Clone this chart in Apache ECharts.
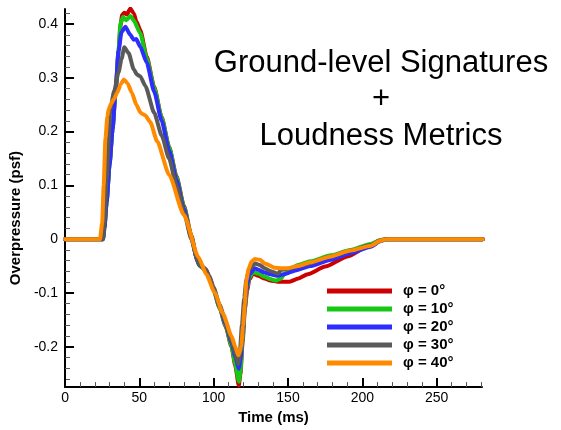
<!DOCTYPE html>
<html>
<head>
<meta charset="utf-8">
<style>
  html, body { margin: 0; padding: 0; background: #fff; }
  #chart { width: 561px; height: 430px; }
</style>
<script src="https://cdn.jsdelivr.net/npm/echarts@6/dist/echarts.min.js"></script>
</head>
<body>
<div id="chart"></div>
<script>
// Ground-level pressure signatures for several azimuth angles phi.
// Time in milliseconds, overpressure in psf.

const seriesNames = ['\u03c6 = 0\u00b0', '\u03c6 = 10\u00b0', '\u03c6 = 20\u00b0', '\u03c6 = 30\u00b0', '\u03c6 = 40\u00b0'];
const seriesColors = ['#cc0000', '#14c814', '#2d2dff', '#5a5a5a', '#ff8a00'];

const time0 = [0, 25.5, 26.5, 28, 30, 32, 34, 36, 37.4, 38.4, 39.9, 41.7, 43.9, 46.2, 48, 50.6, 55, 60, 65, 70, 75, 80, 85, 89, 91, 93, 95, 97, 100, 104, 108, 112, 114.5, 116.9, 118, 119.5, 121, 122.5, 124, 126.5, 130, 134.3, 138, 143.2, 151, 157, 163.3, 175, 190, 205.7, 212, 216, 230, 250, 270, 281];
const press0 = [0, 0, 0.02, 0.07, 0.14, 0.205, 0.275, 0.35, 0.398, 0.417, 0.421, 0.418, 0.429, 0.42, 0.405, 0.389, 0.339, 0.283, 0.227, 0.172, 0.117, 0.062, 0.007, -0.04, -0.05, -0.054, -0.057, -0.07, -0.095, -0.128, -0.162, -0.2, -0.235, -0.272, -0.25, -0.19, -0.13, -0.095, -0.075, -0.064, -0.068, -0.073, -0.077, -0.079, -0.079, -0.073, -0.065, -0.051, -0.032, -0.01, -0.002, 0, 0, 0, 0, 0];

const time10 = [0, 25.5, 26.5, 28, 30, 32, 34, 36, 37.2, 39, 41.2, 43.9, 46.2, 50.6, 55, 60, 65, 70, 75, 80, 85, 88.6, 90, 92, 94, 97, 100, 104, 108, 112, 114.5, 117, 118, 119.5, 121, 122.5, 124, 126.5, 130, 134.3, 138, 142, 145.4, 147.6, 151, 156.6, 165, 178.9, 192, 205.7, 212, 216, 230, 250, 270, 281];
const press10 = [0, 0, 0.02, 0.07, 0.14, 0.205, 0.275, 0.35, 0.4, 0.413, 0.407, 0.415, 0.407, 0.383, 0.336, 0.281, 0.226, 0.171, 0.115, 0.06, 0.005, -0.035, -0.048, -0.052, -0.056, -0.072, -0.095, -0.128, -0.16, -0.198, -0.232, -0.265, -0.245, -0.185, -0.125, -0.09, -0.072, -0.061, -0.064, -0.07, -0.074, -0.077, -0.073, -0.064, -0.057, -0.048, -0.041, -0.03, -0.02, -0.009, -0.002, 0, 0, 0, 0, 0];

const time20 = [0, 25.5, 26.5, 28, 30, 32, 34, 36, 38, 40.6, 43.9, 46.2, 47.9, 50.6, 55, 60, 65, 70, 75, 80, 85, 88.6, 90, 92, 94, 97, 100, 104, 108, 112, 114.5, 116.9, 118, 119.5, 121, 122.5, 124, 127.6, 130, 134.3, 138, 143.2, 147.6, 155, 165, 178.9, 192, 205.7, 212, 216, 230, 250, 270, 281];
const press20 = [0, 0, 0.02, 0.07, 0.14, 0.205, 0.275, 0.35, 0.385, 0.395, 0.38, 0.371, 0.372, 0.358, 0.328, 0.274, 0.22, 0.165, 0.11, 0.056, 0.002, -0.035, -0.047, -0.051, -0.055, -0.07, -0.093, -0.125, -0.157, -0.192, -0.218, -0.241, -0.225, -0.175, -0.12, -0.085, -0.066, -0.054, -0.057, -0.062, -0.065, -0.068, -0.065, -0.058, -0.05, -0.038, -0.026, -0.014, -0.004, 0, 0, 0, 0, 0];

const time30 = [0, 25.5, 26.5, 28, 30.5, 33, 36, 38, 39.9, 42.8, 46.2, 48.4, 50.6, 54, 60, 65, 70, 75, 80, 85, 88.6, 90, 92, 94, 97, 100, 104, 108, 112, 114.5, 116.5, 117.5, 119, 120.5, 122, 124, 128, 131, 134.3, 138, 143.2, 145.5, 150, 160, 178.9, 192, 205.7, 212, 216, 230, 250, 270, 281];
const press30 = [0, 0, 0.03, 0.11, 0.242, 0.275, 0.31, 0.335, 0.357, 0.346, 0.316, 0.306, 0.303, 0.285, 0.235, 0.193, 0.15, 0.1, 0.05, 0.0, -0.034, -0.046, -0.05, -0.054, -0.068, -0.09, -0.122, -0.153, -0.188, -0.212, -0.232, -0.215, -0.16, -0.11, -0.075, -0.055, -0.045, -0.048, -0.054, -0.059, -0.064, -0.057, -0.055, -0.048, -0.032, -0.021, -0.011, -0.003, 0, 0, 0, 0, 0];

const time40 = [0, 23.5, 25, 26, 27.2, 28.5, 29.4, 31, 32.8, 35, 37.5, 39.5, 42, 45, 48, 50.6, 52, 54, 57.3, 62, 70, 80, 89.7, 95, 100.8, 106, 112, 114.5, 116.5, 117.5, 118.5, 119.8, 121, 122, 123.5, 125.4, 127.6, 131, 134.3, 141, 145.5, 150, 156.6, 165, 178.9, 192, 205.7, 212, 216, 230, 250, 270, 281];
const press40 = [0, 0, 0.03, 0.1, 0.187, 0.228, 0.242, 0.252, 0.26, 0.272, 0.288, 0.297, 0.29, 0.272, 0.25, 0.236, 0.233, 0.23, 0.218, 0.182, 0.12, 0.045, -0.033, -0.065, -0.1, -0.137, -0.18, -0.2, -0.216, -0.21, -0.2, -0.161, -0.12, -0.076, -0.055, -0.042, -0.037, -0.038, -0.045, -0.053, -0.054, -0.054, -0.05, -0.043, -0.032, -0.021, -0.012, -0.003, 0, 0, 0, 0, 0];

// Axis ticks
const xMajorTicks = [0, 50, 100, 150, 200, 250];
const xMinorTicks = [10, 20, 30, 40, 60, 70, 80, 90, 110, 120, 130, 140, 160, 170, 180, 190, 210, 220, 230, 240, 260, 270, 280];
const yMajorTicks = [-0.2, -0.1, 0, 0.1, 0.2, 0.3, 0.4];
const yMinorTicks = [-0.26, -0.24, -0.22, -0.18, -0.16, -0.14, -0.12, -0.08, -0.06, -0.04, -0.02,
                     0.02, 0.04, 0.06, 0.08, 0.12, 0.14, 0.16, 0.18, 0.22, 0.24, 0.26, 0.28,
                     0.32, 0.34, 0.36, 0.38, 0.42];

const titleLines = ['Ground-level Signatures', '+', 'Loudness Metrics'];

const X_MIN = 0, X_MAX = 280.5;
const Y_MIN = -0.275, Y_MAX = 0.428;

const FONT = '"Liberation Sans", Arial, Helvetica, sans-serif';

const allTimes = [time0, time10, time20, time30, time40];
const allPress = [press0, press10, press20, press30, press40];

function pairs(t, v) {
  return t.map((x, i) => [x, v[i]]);
}

const chart = echarts.init(document.getElementById('chart'), null, { renderer: 'canvas' });

const axisLineStyle = { color: '#000', width: 2 };

chart.setOption({
  animation: false,
  backgroundColor: '#fff',
  grid: { left: 63, right: 79, top: 9, bottom: 38, containLabel: false },
  legend: {
    orient: 'vertical',
    left: 327,
    top: 282,
    padding: 0,
    itemGap: 0,
    itemWidth: 65,
    itemHeight: 5,
    icon: 'rect',
    data: seriesNames,
    textStyle: {
      fontFamily: FONT,
      fontSize: 15,
      fontWeight: 'bold',
      color: '#000',
      lineHeight: 18,
      padding: [0, 0, 0, 6]
    }
  },
  xAxis: [
    {
      type: 'value',
      min: X_MIN,
      max: X_MAX,
      name: 'Time (ms)',
      nameLocation: 'middle',
      nameGap: 20,
      nameTextStyle: { fontFamily: FONT, fontSize: 15, fontWeight: 'bold', color: '#000' },
      axisLine: { show: true, onZero: false, lineStyle: axisLineStyle },
      axisTick: { show: true, inside: true, length: 9, customValues: xMajorTicks, lineStyle: { color: '#000', width: 2 } },
      axisLabel: { show: true, customValues: xMajorTicks, margin: 4, fontFamily: FONT, fontSize: 14, color: '#000' },
      splitLine: { show: false }
    },
    {
      type: 'value',
      min: X_MIN,
      max: X_MAX,
      position: 'bottom',
      axisLine: { show: false, onZero: false },
      axisTick: { show: true, inside: true, length: 5, customValues: xMinorTicks, lineStyle: { color: '#555', width: 1 } },
      axisLabel: { show: false },
      splitLine: { show: false }
    }
  ],
  yAxis: [
    {
      type: 'value',
      min: Y_MIN,
      max: Y_MAX,
      position: 'left',
      name: 'Overpressure (psf)',
      nameLocation: 'middle',
      nameGap: 39,
      nameRotate: 90,
      nameTextStyle: { fontFamily: FONT, fontSize: 15, fontWeight: 'bold', color: '#000', padding: [0, 40, 0, 0] },
      axisLine: { show: true, onZero: false, lineStyle: axisLineStyle },
      axisTick: { show: true, inside: true, length: 9, customValues: yMajorTicks, lineStyle: { color: '#000', width: 2 } },
      axisLabel: { show: true, customValues: yMajorTicks, margin: 7, fontFamily: FONT, fontSize: 14, color: '#000' },
      splitLine: { show: false }
    },
    {
      type: 'value',
      min: Y_MIN,
      max: Y_MAX,
      position: 'left',
      offset: 0,
      axisLine: { show: false, onZero: false },
      axisTick: { show: true, inside: true, length: 5, customValues: yMinorTicks, lineStyle: { color: '#555', width: 1 } },
      axisLabel: { show: false },
      splitLine: { show: false }
    }
  ],
  graphic: [
    {
      type: 'text',
      x: 381,
      y: 45,
      style: {
        text: titleLines.join('\n'),
        textAlign: 'center',
        align: 'center',
        textVerticalAlign: 'top',
        verticalAlign: 'top',
        fontFamily: FONT,
        fontSize: 31,
        lineHeight: 36.5,
        fill: '#000'
      }
    }
  ],
  series: seriesNames.map((name, i) => ({
    name: name,
    type: 'line',
    xAxisIndex: 0,
    yAxisIndex: 0,
    data: pairs(allTimes[i], allPress[i]),
    showSymbol: false,
    symbol: 'none',
    smooth: 0.2,
    smoothMonotone: 'x',
    color: seriesColors[i],
    lineStyle: { width: 4, color: seriesColors[i], cap: 'round', join: 'round' },
    z: 2 + i
  }))
});
</script>
</body>
</html>
